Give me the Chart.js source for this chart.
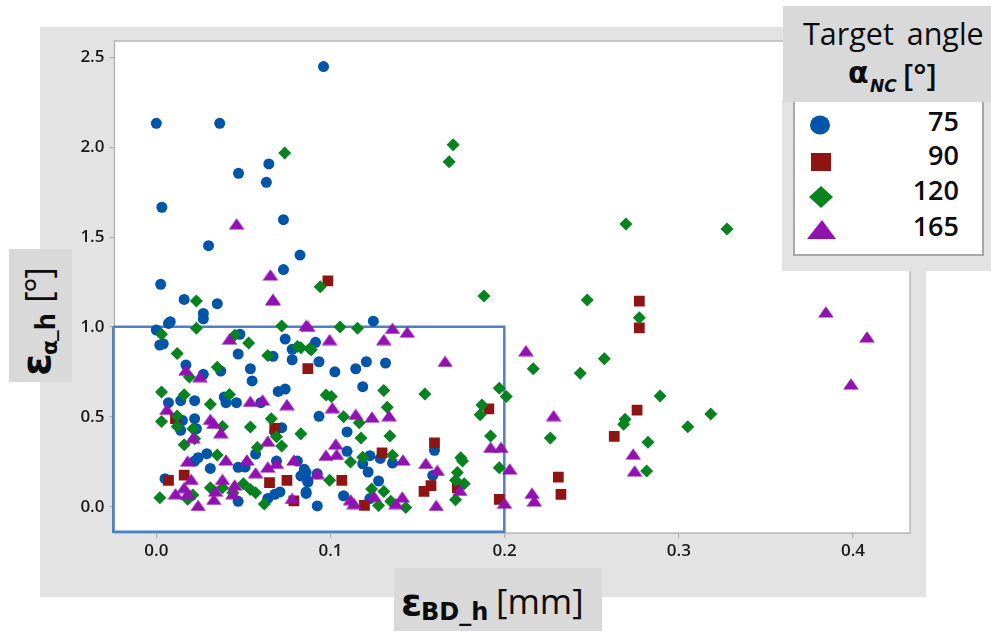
<!DOCTYPE html>
<html>
<head>
<meta charset="utf-8">
<script src="https://cdn.jsdelivr.net/npm/chart.js@4"></script>
<style>
  html, body { margin: 0; padding: 0; background: #fff; }
  #wrap { position: relative; width: 991px; height: 633px; overflow: hidden; font-family: "Open Sans", sans-serif; color: #0c0c0c; }
  #panel { position: absolute; left: 40px; top: 27px; width: 886px; height: 570px; background: #e3e3e3; }
  canvas { position: absolute; left: 0; top: 0; }
  .box { position: absolute; background: #d9d9d9; }
  .sym { font-family: "DejaVu Sans", sans-serif; font-weight: 700; }
  #xTitle { left: 394px; top: 568px; width: 208px; height: 63px; white-space: nowrap; }
  #xTitle span { position: absolute; }
  #yTitle { left: 9px; top: 249px; width: 63px; height: 133px; }
  #yTitle .rot { position: absolute; left: 0; top: 133px; width: 133px; height: 63px; transform-origin: 0 0; transform: rotate(-90deg); white-space: nowrap; }
  #yTitle span { position: absolute; }
  #legendBack { position: absolute; left: 782px; top: 100px; width: 209px; height: 171px; background: #e3e3e3; }
  #legendBox { position: absolute; left: 793px; top: 100px; width: 187px; height: 154px; background: #fff; border: 1px solid #a8a8a8; border-width: 0 2px 2px 2px; }
  #legendHead { left: 783px; top: 6px; width: 208px; height: 96px; }
  #legendHead span { position: absolute; white-space: nowrap; }
  .lab { position: absolute; right: 23px; font-size: 27px; font-weight: 600; line-height: 34px; }
  #legendBack svg { position: absolute; left: 0; top: 0; }
</style>
</head>
<body>
<div id="wrap">
  <div id="panel"></div>
  <canvas id="chart" width="991" height="633"></canvas>

  <div class="box" id="yTitle"><div class="rot">
    <span class="sym" style="left:6px;top:3px;font-size:41px">ε</span>
    <span class="sym" style="left:27px;top:28px;font-size:22px">α</span>
    <span style="left:41px;top:18px;font-size:26px;font-weight:700">_h</span>
    <span style="left:79px;top:4px;font-size:36px;letter-spacing:-1.500px">[°]</span>
  </div></div>

  <div class="box" id="xTitle">
    <span class="sym" style="left:7px;top:12px;font-size:38px">ε</span>
    <span class="sym" style="left:27px;top:30px;font-size:24px">BD_h</span>
    <span style="left:102px;top:9px;font-size:35px">[mm]</span>
  </div>

  <div id="legendBack">
    <div id="legendBox" style="left:11px;top:0">
      <div class="lab" style="top:4px">75</div>
      <div class="lab" style="top:38px">90</div>
      <div class="lab" style="top:73px">120</div>
      <div class="lab" style="top:109px">165</div>
    </div>
    <svg width="209" height="171">
      <ellipse cx="38" cy="25" rx="10" ry="9.500" fill="#0055a9"/>
      <rect x="29" y="53" width="20" height="18" fill="#8f1414"/>
      <path d="M39 86 L51 97 L39 108 L27 97 Z" fill="#06821f"/>
      <path d="M40 120 L54 139 L25 139 Z" fill="#9112b0"/>
    </svg>
  </div>

  <div class="box" id="legendHead">
    <span style="left:20px;top:6px;font-size:30.500px;word-spacing:5px">Target angle</span>
    <span class="sym" style="left:65px;top:49px;font-size:30px">α</span>
    <span class="sym" style="left:87px;top:70px;font-size:17px;font-style:italic">NC</span>
    <span style="left:120px;top:47px;font-size:31px;font-weight:600">[°]</span>
  </div>
</div>

<script>
// Values
const xTicks = [0, 0.1, 0.2, 0.3, 0.4];
const yTicks = [0, 0.5, 1, 1.5, 2, 2.5];

const x75 = [0.000,0.007,0.008,0.002,0.004,0.027,0.027,0.035,0.016,0.048,0.074,0.078,0.078,0.047,0.067,0.017,0.027,0.037,0.054,0.055,0.070,0.074,0.007,0.014,0.022,0.039,0.040,0.046,0.060,0.015,0.022,0.014,0.023,0.068,0.072,0.057,0.029,0.024,0.022,0.031,0.047,0.051,0.069,0.081,0.085,0.083,0.087,0.086,0.005,0.047,0.064,0.068,0.071,0.086,0.1246,0.0914,0.0934,0.1025,0.1145,0.1206,0.1316,0.1185,0.0934,0.1095,0.1095,0.1226,0.1286,0.1185,0.1356,0.1216,0.1276,0.1587,0.1597,0.085,0.087,0.0924,0.086,0.0924,0.1075,0.1226,0.096,0.000,0.0364,0.0646,0.0472,0.0632,0.0032,0.073,0.030,0.0825,0.073,0.0025];
const y75 = [0.983,1.020,1.030,0.900,0.907,1.046,1.076,1.130,1.154,0.960,0.933,0.876,0.818,0.850,0.837,0.789,0.737,0.755,0.768,0.700,0.642,0.655,0.579,0.590,0.590,0.610,0.579,0.579,0.579,0.480,0.490,0.425,0.434,0.416,0.440,0.293,0.295,0.273,0.254,0.213,0.219,0.221,0.254,0.254,0.208,0.171,0.143,0.190,0.156,0.030,0.046,0.069,0.082,0.082,1.033,0.915,0.807,0.751,0.768,0.807,0.800,0.668,0.503,0.416,0.308,0.284,0.269,0.239,0.243,0.193,0.143,0.174,0.314,0.184,0.137,0.184,0.074,0.004,0.061,0.045,2.450,2.134,2.134,1.908,1.856,1.806,1.667,1.598,1.453,1.401,1.320,1.238];

const x90 = [0.011,0.068,0.007,0.016,0.065,0.075,0.079,0.087,0.1065,0.1296,0.1597,0.1577,0.1537,0.1195,0.1909,0.1969,0.1728,0.0985,0.2773,0.2773,0.2760,0.2629,0.2308,0.2323];
const y90 = [0.490,0.436,0.147,0.176,0.134,0.147,0.032,0.768,0.147,0.300,0.356,0.117,0.085,0.007,0.545,0.041,0.106,1.257,1.144,0.995,0.537,0.392,0.164,0.069];

const x120 = [0.003,0.023,0.023,0.072,0.045,0.053,0.081,0.088,0.012,0.064,0.035,0.019,0.003,0.016,0.042,0.031,0.003,0.012,0.012,0.021,0.022,0.016,0.038,0.054,0.066,0.083,0.069,0.072,0.058,0.035,0.002,0.018,0.021,0.031,0.038,0.050,0.054,0.057,0.062,0.044,0.1055,0.1155,0.089,0.083,0.1306,0.1542,0.0975,0.1005,0.1969,0.2009,0.1326,0.1075,0.1165,0.1869,0.1859,0.1341,0.1175,0.1919,0.1356,0.1185,0.1115,0.1748,0.1758,0.1728,0.1718,0.1768,0.1969,0.0995,0.1236,0.1306,0.1346,0.1276,0.1432,0.1718,0.1704,0.1681,0.0737,0.0941,0.2696,0.3276,0.1881,0.2474,0.2773,0.2572,0.2164,0.2434,0.2892,0.2691,0.2683,0.3183,0.3051,0.2823,0.2262,0.2815];
const y120 = [0.960,0.993,1.145,1.006,0.954,0.911,0.892,0.879,0.853,0.842,0.777,0.722,0.638,0.623,0.625,0.570,0.475,0.505,0.447,0.434,0.378,0.345,0.447,0.443,0.490,0.406,0.390,0.338,0.330,0.288,0.050,0.041,0.065,0.106,0.106,0.128,0.096,0.078,0.015,0.078,1.000,0.993,0.874,0.885,0.647,0.627,0.622,0.614,0.659,0.614,0.553,0.501,0.468,0.566,0.512,0.393,0.382,0.393,0.286,0.275,0.249,0.273,0.254,0.191,0.147,0.128,0.217,0.147,0.098,0.085,0.030,0.006,-0.005,0.039,2.015,1.920,1.969,1.225,1.574,1.546,1.173,1.151,1.052,0.824,0.768,0.743,0.616,0.487,0.459,0.516,0.445,0.359,0.382,0.199];

const x165 = [0.042,0.017,0.025,0.006,0.067,0.086,0.054,0.061,0.075,0.031,0.033,0.037,0.021,0.064,0.018,0.040,0.052,0.057,0.064,0.069,0.079,0.020,0.038,0.016,0.011,0.018,0.034,0.033,0.045,0.044,0.024,0.078,0.087,0.1356,0.1441,0.0995,0.1306,0.1658,0.1011,0.1145,0.1238,0.1336,0.103,0.0974,0.1035,0.0924,0.1416,0.1547,0.1613,0.1743,0.1919,0.1979,0.2029,0.1115,0.1135,0.1251,0.1412,0.1376,0.1607,0.1999,0.2157,0.217,0.2122,0.0461,0.0655,0.0669,0.2281,0.2738,0.2746,0.3844,0.408,0.3988];
const y165 = [0.933,0.760,0.724,0.542,1.154,1.009,0.586,0.594,0.568,0.486,0.464,0.412,0.384,0.365,0.254,0.260,0.260,0.189,0.221,0.241,0.260,0.152,0.152,0.106,0.072,0.072,0.087,0.041,0.121,0.072,0.007,0.046,1.004,0.993,0.972,0.930,0.930,0.809,0.551,0.514,0.499,0.506,0.349,0.286,0.291,0.184,0.260,0.241,0.202,0.091,0.330,0.330,0.210,0.039,0.017,0.057,0.054,0.017,0.007,0.020,0.075,0.032,0.868,1.574,1.290,1.150,0.507,0.293,0.199,1.084,0.945,0.683];

// blue box marking the region of interest
const boxX = [-0.0247, 0.1998, 0.1998, -0.0247, -0.0247];
const boxY = [1.002, 1.002, -0.139, -0.139, 1.002];

function zip(xs, ys) {
  return xs.map((x, i) => ({ x: x, y: ys[i] }));
}

// the reference triangles are flatter than the built-in one
function flatTriangle(color) {
  const c = document.createElement('canvas');
  c.width = 16;
  c.height = 12;
  const g = c.getContext('2d');
  g.fillStyle = color;
  g.beginPath();
  g.moveTo(8, 0.2);
  g.lineTo(15.8, 11.6);
  g.lineTo(0.2, 11.6);
  g.closePath();
  g.fill();
  return c;
}

// white plot area with a thin grey frame
const plotFrame = {
  id: 'plotFrame',
  beforeDatasetsDraw(chart) {
    const a = chart.chartArea;
    const c = chart.ctx;
    c.save();
    c.fillStyle = '#fff';
    c.fillRect(a.left, a.top, a.width, a.height);
    c.strokeStyle = '#b0b0b0';
    c.lineWidth = 1.25;
    c.strokeRect(a.left, a.top, a.width, a.height);
    c.restore();
  }
};

new Chart(document.getElementById('chart'), {
  type: 'scatter',
  data: {
    datasets: [
      { label: '75', data: zip(x75, y75), pointStyle: 'circle', pointRadius: 5.5, backgroundColor: '#0055a9', borderWidth: 0, order: 4 },
      { label: '90', data: zip(x90, y90), pointStyle: 'rect', pointRadius: 7.6, backgroundColor: '#8f1414', borderWidth: 0, order: 3 },
      { label: '120', data: zip(x120, y120), pointStyle: 'rectRot', pointRadius: 6.5, backgroundColor: '#06821f', borderWidth: 0, order: 2 },
      { label: '165', data: zip(x165, y165), pointStyle: flatTriangle('#9112b0'), pointRadius: 8, backgroundColor: '#9112b0', borderWidth: 0, order: 1 },
      { label: 'box', data: zip(boxX, boxY), showLine: true, borderColor: '#4f81bd', borderWidth: 2.5, pointRadius: 0, clip: false, order: 5 }
    ]
  },
  options: {
    responsive: false,
    animation: false,
    layout: { padding: { left: 0, top: 41, right: 81, bottom: 0 } },
    plugins: { legend: { display: false }, tooltip: { enabled: false } },
    scales: {
      x: {
        type: 'linear',
        min: -0.024,
        max: 0.4327,
        afterFit: (s) => { s.height = 100; },
        afterBuildTicks: (s) => { s.ticks = xTicks.map((v) => ({ value: v })); },
        border: { color: '#b0b0b0', width: 1.25 },
        grid: { drawOnChartArea: false, color: '#b0b0b0', tickLength: 5, lineWidth: 1.25 },
        ticks: { color: '#1a1a1a', padding: 3, maxRotation: 0, font: { family: 'Open Sans', size: 17, weight: '600' }, callback: (v) => v.toFixed(1) }
      },
      y: {
        min: -0.1464,
        max: 2.5925,
        afterFit: (s) => { s.width = 114.5; },
        afterBuildTicks: (s) => { s.ticks = yTicks.map((v) => ({ value: v })); },
        border: { color: '#b0b0b0', width: 1.25 },
        grid: { drawOnChartArea: false, color: '#b0b0b0', tickLength: 5, lineWidth: 1.25 },
        ticks: { color: '#1a1a1a', padding: 5, font: { family: 'Open Sans', size: 17, weight: '600' }, callback: (v) => v.toFixed(1) }
      }
    }
  },
  plugins: [plotFrame]
});
</script>
</body>
</html>
